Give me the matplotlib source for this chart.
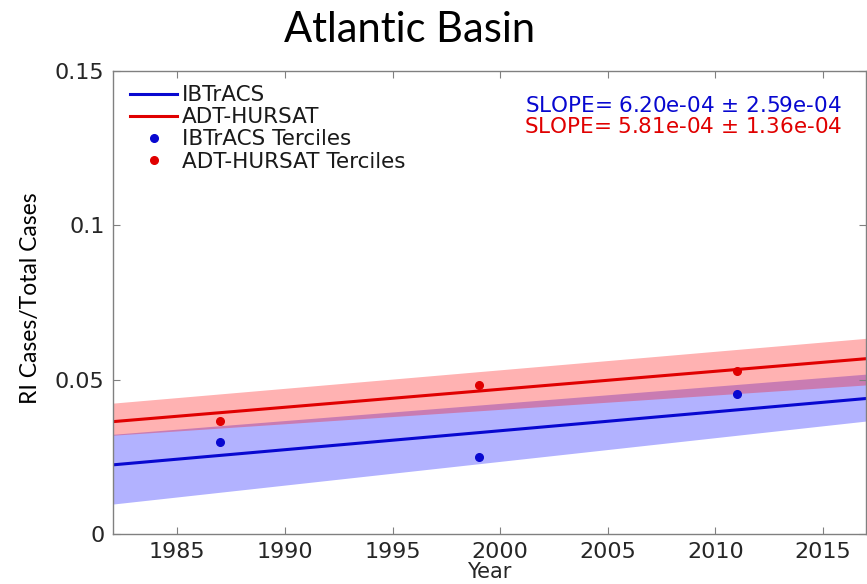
import matplotlib
matplotlib.use('Agg')
import matplotlib.pyplot as plt
import numpy as np

# trend lines (end points)
band_years = [1982, 2017]
ibtracs_fit = [0.0224, 0.0439]
ibtracs_lo = [0.0097, 0.0366]
ibtracs_hi = [0.0323, 0.0518]
hursat_fit = [0.0364, 0.0568]
hursat_lo = [0.0320, 0.0483]
hursat_hi = [0.0424, 0.0634]

# tercile points
tercile_years = [1987, 1999, 2011]
ibtracs_terc = [0.0299, 0.0250, 0.0454]
hursat_terc = [0.0366, 0.0484, 0.0527]

slope_labels = ['SLOPE= 6.20e-04 $\\pm$ 2.59e-04',
                'SLOPE= 5.81e-04 $\\pm$ 1.36e-04']

blue = '#0808d0'
red = '#e00000'

fig = plt.figure(figsize=(8.67, 5.84), dpi=100)
ax = fig.add_axes([0.130, 0.0856, 0.869, 0.7928])

ax.fill_between(band_years, ibtracs_lo, ibtracs_hi, color=(0, 0, 1), alpha=0.3, lw=0)
ax.fill_between(band_years, hursat_lo, hursat_hi, color=(1, 0, 0), alpha=0.3, lw=0)
ax.plot(band_years, ibtracs_fit, color=blue, lw=2.2, label='IBTrACS')
ax.plot(band_years, hursat_fit, color=red, lw=2.2, label='ADT-HURSAT')
ax.plot(tercile_years, ibtracs_terc, 'o', color=blue, ms=5.5, label='IBTrACS Terciles')
ax.plot(tercile_years, hursat_terc, 'o', color=red, ms=5.5, label='ADT-HURSAT Terciles')

ax.set_xlim(1982, 2017)
ax.set_ylim(0, 0.15)
ax.set_xticks([1985, 1990, 1995, 2000, 2005, 2010, 2015])
ax.set_yticks([0, 0.05, 0.1, 0.15])
ax.set_yticklabels(['0', '0.05', '0.1', '0.15'])
ax.tick_params(direction='in', top=True, right=True, length=5, width=0.8,
               color='#808080', labelsize=16, labelcolor='#262626', pad=6)
for s in ax.spines.values():
    s.set_color('#808080')
    s.set_linewidth(1.0)

leg = ax.legend(loc='upper left', frameon=False, fontsize=15.5, handlelength=2.15,
                handletextpad=0.25, labelspacing=0.1, borderaxespad=0.0,
                bbox_to_anchor=(0.012, 0.988))
for t in leg.get_texts():
    t.set_color('#1a1a1a')

ax.text(0.968, 0.925, slope_labels[0], transform=ax.transAxes, color=blue,
        fontsize=15.5, ha='right', va='center')
ax.text(0.968, 0.878, slope_labels[1], transform=ax.transAxes, color=red,
        fontsize=15.5, ha='right', va='center')

ax.set_xlabel('Year', fontsize=15, color='#262626', labelpad=0)
fig.text(0.035, 0.49, 'RI Cases/Total Cases', rotation=90, fontsize=16.5,
         family=['Lato', 'DejaVu Sans'], ha='center', va='center')
fig.text(0.472, 0.949, 'Atlantic Basin', fontsize=30,
         family=['Lato', 'DejaVu Sans'], ha='center', va='center')

fig.savefig('out.png', dpi=100)
